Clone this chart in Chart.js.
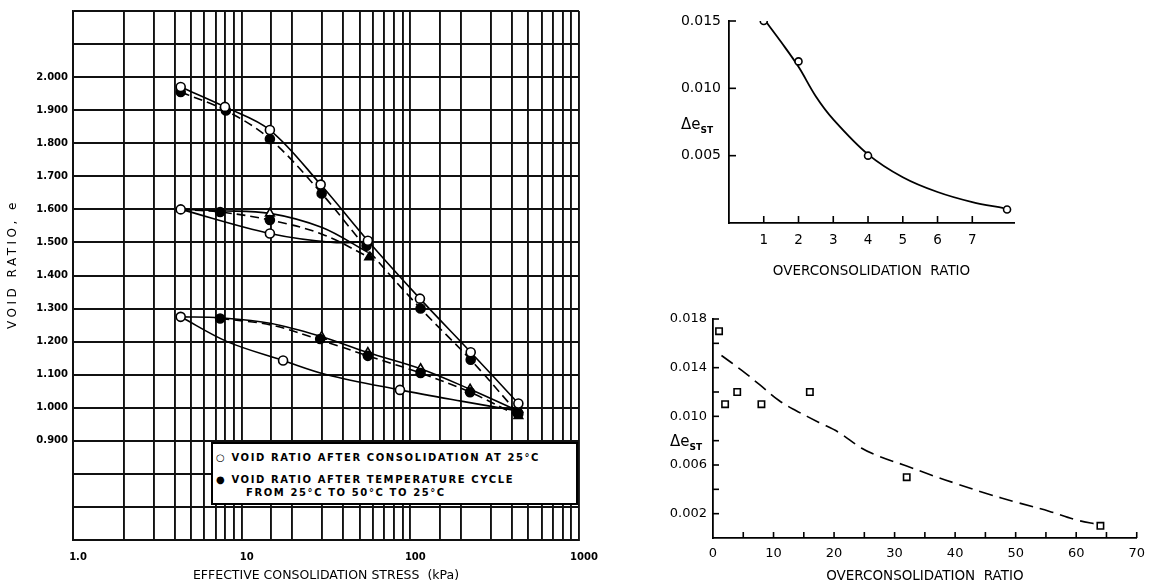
<!DOCTYPE html>
<html>
<head>
<meta charset="utf-8">
<script src="https://cdn.jsdelivr.net/npm/chart.js@4"></script>
<style>
  html, body { margin:0; padding:0; background:#fff; }
  body { width:1153px; height:585px; position:relative; overflow:hidden; font-family:'DejaVu Sans', sans-serif; color:#000; }
  .box { position:absolute; }
  #legend { position:absolute; left:211px; top:442px; width:363px; height:59px; border:2px solid #000; background:#fff;
            font:bold 10px 'DejaVu Sans'; letter-spacing:1.6px; }
  #legend div { position:absolute; white-space:nowrap; }
  .de { position:absolute; font:15px 'DejaVu Sans'; white-space:nowrap; }
  .de sub { font:bold 9px 'DejaVu Sans'; vertical-align:-4px; }
  #ytitle { position:absolute; left:-73px; top:257px; width:170px; text-align:center; transform:rotate(-90deg);
            font:12px 'DejaVu Sans'; letter-spacing:3.5px; white-space:nowrap; color:#000; }
</style>
</head>
<body>
<div class="box" style="left:0;top:0;width:610px;height:585px;"><canvas id="c1"></canvas></div>
<div class="box" style="left:660px;top:0;width:493px;height:280px;"><canvas id="c2"></canvas></div>
<div class="box" style="left:660px;top:280px;width:493px;height:305px;"><canvas id="c3"></canvas></div>

<div id="ytitle">VOID RATIO, e</div>
<div id="legend">
  <div style="left:3px;top:8px;">○ VOID RATIO AFTER CONSOLIDATION AT 25°C</div>
  <div style="left:3px;top:30px;">● VOID RATIO AFTER TEMPERATURE CYCLE</div>
  <div style="left:33px;top:43px;">FROM 25°C TO 50°C TO 25°C</div>
</div>
<div class="de" style="left:681px;top:115px;">Δe<sub>ST</sub></div>
<div class="de" style="left:670px;top:432px;">Δe<sub>ST</sub></div>

<script>
// ---------- Left chart: void ratio vs effective consolidation stress ----------
const stressTicksLabelled = [1, 10, 100, 1000];
const voidTickLabelsMin = 0.9, voidTickLabelsMax = 2.0;

const stressTopOpen = [4.35, 7.96, 14.7, 29.4, 56, 114, 228, 437];
const eTopOpen      = [1.970, 1.910, 1.840, 1.675, 1.505, 1.330, 1.168, 1.013];
const stressTopFilled = [4.35, 8.06, 14.7, 29.8, 115, 228, 437];
const eTopFilled      = [1.955, 1.899, 1.813, 1.648, 1.300, 1.145, 0.982];
const stressMidOpen = [4.35, 14.7];
const eMidOpen      = [1.600, 1.527];
const stressMidFilled = [7.45, 14.7, 55];
const eMidFilled      = [1.592, 1.568, 1.490];
const stressMidTriOpen = [14.7];
const eMidTriOpen      = [1.588];
const stressMidTriFilled = [57, 437];
const eMidTriFilled      = [1.455, 0.975];
const stressLowOpen = [4.35, 17.6, 86.8];
const eLowOpen      = [1.275, 1.143, 1.054];
const stressLowFilled = [7.45, 29.2, 56, 115, 226, 430];
const eLowFilled      = [1.270, 1.208, 1.157, 1.105, 1.047, 0.985];
const stressLowTriOpen = [29.8, 56, 115, 226, 437];
const eLowTriOpen      = [1.215, 1.167, 1.118, 1.056, 0.995];

// fitted curves
const topDashX = [4.35, 8.06, 14.7, 29.8, 56, 115, 228, 437];
const topDashY = [1.955, 1.899, 1.813, 1.648, 1.478, 1.300, 1.145, 0.982];
const midSolidLowX = [4.35, 14.7, 35, 56];
const midSolidLowY = [1.600, 1.527, 1.500, 1.503];
const midSolidHighX = [4.35, 7.45, 14.7, 30, 56];
const midSolidHighY = [1.600, 1.596, 1.588, 1.545, 1.470];
const midDashX = [4.35, 7.45, 14.7, 30, 57];
const midDashY = [1.600, 1.592, 1.568, 1.525, 1.455];
const lowSolidLowX = [4.35, 8.2, 17.6, 32, 86.8, 200, 437];
const lowSolidLowY = [1.275, 1.200, 1.143, 1.100, 1.054, 1.020, 0.990];
const lowSolidHighX = [4.35, 7.45, 15, 29.8, 56, 115, 226, 437];
const lowSolidHighY = [1.275, 1.272, 1.255, 1.215, 1.167, 1.118, 1.056, 0.990];
const lowDashX = [7.45, 15, 29.2, 56, 115, 226, 437];
const lowDashY = [1.270, 1.250, 1.205, 1.157, 1.105, 1.047, 0.975];

// ---------- Top right: Δe_ST vs OCR ----------
const ocrTop  = [1, 2, 4, 8];
const dEstTop = [0.0150, 0.0120, 0.0050, 0.0010];
const curveTopX = [1.05, 1.5, 2, 2.5, 3, 4, 5, 6, 7, 7.9];
const curveTopY = [0.0150, 0.01344, 0.0116, 0.0094, 0.0077, 0.0051, 0.0034, 0.0023, 0.00155, 0.0011];

// ---------- Bottom right: Δe_ST vs OCR ----------
const ocrBot  = [1, 2, 4, 8, 16, 32, 64];
const dEstBot = [0.0170, 0.0110, 0.0120, 0.0110, 0.0120, 0.0050, 0.0010];
const curveBotX = [1.4, 4.7, 7.7, 10.9, 13.6, 17.5, 20.7, 24.5, 27.5, 32.1, 35.9, 40.6, 44.9, 50.4, 55.5, 59.9, 63.7];
const curveBotY = [0.0150, 0.0138, 0.0126, 0.0113, 0.0105, 0.0095, 0.0087, 0.0074, 0.0067, 0.0059, 0.0052, 0.0044, 0.0037, 0.0029, 0.0022, 0.0015, 0.0011];

const pts = (xs, ys) => xs.map((x, i) => ({x, y: ys[i]}));
const BLACK = '#000';

function marks(xs, ys, style, filled, r) {
  return { data: pts(xs, ys), showLine: false, pointStyle: style, pointRadius: r || 4.5,
           pointBorderWidth: 1.6, pointBorderColor: BLACK,
           pointBackgroundColor: filled ? BLACK : '#fff', order: 0 };
}
function curve(xs, ys, dash, w) {
  return { data: pts(xs, ys), showLine: true, pointRadius: 0, borderColor: BLACK,
           borderWidth: w || 1.6, borderDash: dash || [], tension: 0.35, order: 1 };
}

function fixWidth(w) { return s => { s.width = w; }; }
function fixHeight(h) { return s => { s.height = h; }; }

// inward tick marks drawn at scale tick positions
function inwardTicks(xKeep, yKeep, len) {
  return {
    id: 'inwardTicks',
    afterDatasetsDraw(chart) {
      const {ctx, chartArea, scales} = chart;
      ctx.save();
      ctx.strokeStyle = BLACK; ctx.lineWidth = 1.6;
      scales.x.ticks.forEach(t => {
        if (!xKeep(t.value)) return;
        const px = scales.x.getPixelForValue(t.value);
        ctx.beginPath(); ctx.moveTo(px, chartArea.bottom); ctx.lineTo(px, chartArea.bottom - len); ctx.stroke();
      });
      scales.y.ticks.forEach(t => {
        if (!yKeep(t.value)) return;
        const py = scales.y.getPixelForValue(t.value);
        ctx.beginPath(); ctx.moveTo(chartArea.left, py); ctx.lineTo(chartArea.left + len, py); ctx.stroke();
      });
      ctx.restore();
    }
  };
}

Chart.defaults.font.family = "'DejaVu Sans', sans-serif";
Chart.defaults.color = BLACK;
Chart.defaults.animation = false;

// ---------------- Chart 1 ----------------
new Chart(document.getElementById('c1'), {
  type: 'scatter',
  data: { datasets: [
    curve(stressTopOpen, eTopOpen),
    curve(topDashX, topDashY, [9, 5]),
    curve(midSolidLowX, midSolidLowY),
    curve(midSolidHighX, midSolidHighY),
    curve(midDashX, midDashY, [9, 5]),
    curve(lowSolidLowX, lowSolidLowY),
    curve(lowSolidHighX, lowSolidHighY),
    curve(lowDashX, lowDashY, [9, 5]),
    marks(stressTopOpen, eTopOpen, 'circle', false),
    marks(stressTopFilled, eTopFilled, 'circle', true),
    marks(stressMidOpen, eMidOpen, 'circle', false),
    marks(stressMidFilled, eMidFilled, 'circle', true),
    marks(stressMidTriOpen, eMidTriOpen, 'triangle', false, 5),
    marks(stressMidTriFilled, eMidTriFilled, 'triangle', true, 5),
    marks(stressLowOpen, eLowOpen, 'circle', false),
    marks(stressLowFilled, eLowFilled, 'circle', true),
    marks(stressLowTriOpen, eLowTriOpen, 'triangle', false, 5),
  ]},
  options: {
    responsive: true, maintainAspectRatio: false,
    layout: { autoPadding: false, padding: { top: 5, right: 31, left: 0, bottom: 0 } },
    plugins: { legend: { display: false }, tooltip: { enabled: false } },
    scales: {
      x: {
        type: 'logarithmic', min: 1, max: 1000, afterFit: fixHeight(45),
        grid: { color: '#111', lineWidth: 1.9, drawTicks: false },
        border: { display: true, color: '#111', width: 1.9 },
        ticks: { autoSkip: false, maxRotation: 0, padding: 11, labelOffset: 5,
                 font: { size: 10, weight: 'bold' },
                 callback: v => stressTicksLabelled.includes(v) ? (v === 1 ? '1.0' : String(v)) : '' },
        title: { display: true, text: 'EFFECTIVE CONSOLIDATION STRESS  (kPa)', font: { size: 12.5 }, padding: { top: 0, bottom: 2 } }
      },
      y: {
        min: 0.6, max: 2.2, afterFit: fixWidth(73),
        grid: { color: '#111', lineWidth: 1.9, drawTicks: false },
        border: { display: true, color: '#111', width: 1.9 },
        ticks: { stepSize: 0.1, autoSkip: false, padding: 5, font: { size: 10, weight: 'bold' },
                 callback: v => { const r = Math.round(v * 10) / 10; return (r >= voidTickLabelsMin - 1e-9 && r <= voidTickLabelsMax + 1e-9) ? r.toFixed(3) : ''; } }
      }
    }
  }
});

// ---------------- Chart 2 ----------------
new Chart(document.getElementById('c2'), {
  type: 'scatter',
  data: { datasets: [
    curve(curveTopX, curveTopY, [], 1.8),
    marks(ocrTop, dEstTop, 'circle', false, 3.5),
  ]},
  options: {
    responsive: true, maintainAspectRatio: false,
    layout: { autoPadding: false, padding: { top: 21, right: 139, left: 0, bottom: 0 } },
    plugins: { legend: { display: false }, tooltip: { enabled: false } },
    scales: {
      x: {
        min: 0, max: 8.2, afterFit: fixHeight(57),
        grid: { display: true, drawOnChartArea: false, drawTicks: false },
        border: { display: true, color: BLACK, width: 1.8 },
        ticks: { stepSize: 1, autoSkip: false, maxRotation: 0, padding: 9, font: { size: 13.5 },
                 callback: v => (Number.isInteger(v) && v >= 1) ? String(v) : '' },
        title: { display: true, text: 'OVERCONSOLIDATION  RATIO', font: { size: 13.5 }, padding: { top: 6, bottom: 0 } }
      },
      y: {
        min: 0, max: 0.015, afterFit: fixWidth(69),
        grid: { display: true, drawOnChartArea: false, drawTicks: false },
        border: { display: true, color: BLACK, width: 1.8 },
        ticks: { stepSize: 0.005, autoSkip: false, padding: 8, font: { size: 14 },
                 callback: v => { const k = Math.round(v * 1000); return (k > 0 && k % 5 === 0) ? (k / 1000).toFixed(3) : ''; } }
      }
    }
  },
  plugins: [inwardTicks(v => Number.isInteger(Math.round(v * 1000) / 1000) && v >= 1,
                        v => { const k = Math.round(v * 1000); return k > 0 && k % 5 === 0; }, 7)]
});

// ---------------- Chart 3 ----------------
new Chart(document.getElementById('c3'), {
  type: 'scatter',
  data: { datasets: [
    curve(curveBotX, curveBotY, [14, 7], 1.6),
    marks(ocrBot, dEstBot, 'rect', false, 4.5),
  ]},
  options: {
    responsive: true, maintainAspectRatio: false,
    layout: { autoPadding: false, padding: { top: 39, right: 11, left: 0, bottom: 0 } },
    plugins: { legend: { display: false }, tooltip: { enabled: false } },
    scales: {
      x: {
        min: 0, max: 70, afterFit: fixHeight(47),
        grid: { display: true, drawOnChartArea: false, drawTicks: false },
        border: { display: true, color: BLACK, width: 1.8 },
        ticks: { stepSize: 5, autoSkip: false, maxRotation: 0, padding: 8, font: { size: 13 },
                 callback: v => (Math.round(v) % 10 === 0) ? String(Math.round(v)) : '' },
        title: { display: true, text: 'OVERCONSOLIDATION  RATIO', font: { size: 13.5 }, padding: { top: 2, bottom: 0 } }
      },
      y: {
        min: 0, max: 0.018, afterFit: fixWidth(53),
        grid: { display: true, drawOnChartArea: false, drawTicks: false },
        border: { display: true, color: BLACK, width: 1.8 },
        ticks: { stepSize: 0.002, autoSkip: false, padding: 6, font: { size: 13 },
                 callback: v => { const k = Math.round(v * 1000); return (k % 4 === 2) ? (k / 1000).toFixed(3) : ''; } }
      }
    }
  },
  plugins: [inwardTicks(v => Math.round(v) > 0 && Math.round(v) % 5 === 0,
                        v => Math.round(v * 1000) > 0, 6)]
});
</script>
</body>
</html>
